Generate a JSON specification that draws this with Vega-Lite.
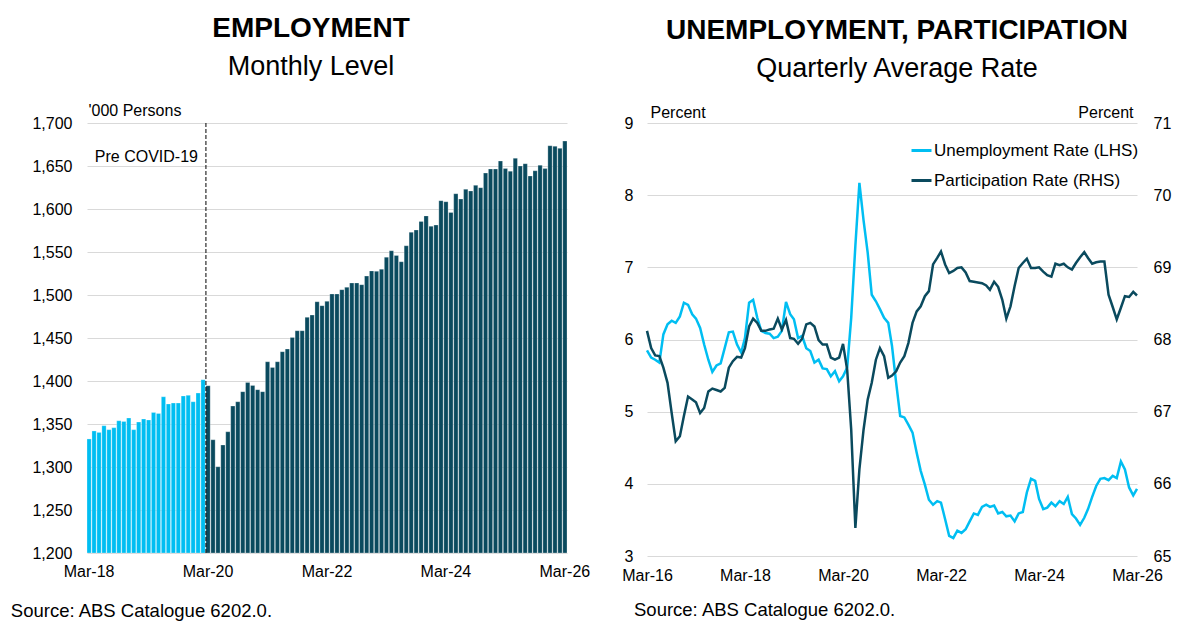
{
  "$schema": "https://vega.github.io/schema/vega-lite/v6.json",
  "background": "white",
  "padding": {"left": 10, "top": 15, "right": 5, "bottom": 5},
  "autosize": {"type": "pad"},
  "bounds": "flush",
  "spacing": 80,
  "resolve": {"scale": {"color": "independent"}, "legend": {"color": "independent"}},
  "config": {
    "font": "Liberation Sans",
    "view": {"stroke": null},
    "axis": {"labelFont": "Liberation Sans", "labelFontSize": 16, "labelColor": "#000000", "ticks": false, "domain": false, "gridColor": "#D9D9D9", "gridWidth": 1, "titleFont": "Liberation Sans", "titleFontWeight": "normal", "titleFontSize": 16, "titleColor": "#000000"},
    "legend": {"labelFont": "Liberation Sans", "labelColor": "#000000", "labelLimit": 320},
    "title": {"font": "Liberation Sans", "fontSize": 28, "fontWeight": "bold", "color": "#000000", "subtitleFont": "Liberation Sans", "subtitleFontSize": 27, "subtitleColor": "#000000", "subtitlePadding": 11, "anchor": "middle"}
  },
  "hconcat": [
    {
      "width": 480,
      "height": 430,
      "title": {"text": "EMPLOYMENT", "subtitle": "Monthly Level", "offset": 22.5, "dx": -16},
      "data": {"values": [
        {"month": "Mar-18", "employment": 1332.6, "period": "Pre COVID-19"},
        {"month": "Apr-18", "employment": 1341.9, "period": "Pre COVID-19"},
        {"month": "May-18", "employment": 1340.2, "period": "Pre COVID-19"},
        {"month": "Jun-18", "employment": 1348.0, "period": "Pre COVID-19"},
        {"month": "Jul-18", "employment": 1343.4, "period": "Pre COVID-19"},
        {"month": "Aug-18", "employment": 1345.7, "period": "Pre COVID-19"},
        {"month": "Sep-18", "employment": 1353.8, "period": "Pre COVID-19"},
        {"month": "Oct-18", "employment": 1353.0, "period": "Pre COVID-19"},
        {"month": "Nov-18", "employment": 1357.0, "period": "Pre COVID-19"},
        {"month": "Dec-18", "employment": 1343.4, "period": "Pre COVID-19"},
        {"month": "Jan-19", "employment": 1352.3, "period": "Pre COVID-19"},
        {"month": "Feb-19", "employment": 1355.8, "period": "Pre COVID-19"},
        {"month": "Mar-19", "employment": 1354.7, "period": "Pre COVID-19"},
        {"month": "Apr-19", "employment": 1363.5, "period": "Pre COVID-19"},
        {"month": "May-19", "employment": 1362.3, "period": "Pre COVID-19"},
        {"month": "Jun-19", "employment": 1381.7, "period": "Pre COVID-19"},
        {"month": "Jul-19", "employment": 1373.3, "period": "Pre COVID-19"},
        {"month": "Aug-19", "employment": 1374.4, "period": "Pre COVID-19"},
        {"month": "Sep-19", "employment": 1374.4, "period": "Pre COVID-19"},
        {"month": "Oct-19", "employment": 1382.6, "period": "Pre COVID-19"},
        {"month": "Nov-19", "employment": 1383.3, "period": "Pre COVID-19"},
        {"month": "Dec-19", "employment": 1375.9, "period": "Pre COVID-19"},
        {"month": "Jan-20", "employment": 1386.0, "period": "Pre COVID-19"},
        {"month": "Feb-20", "employment": 1401.5, "period": "Pre COVID-19"},
        {"month": "Mar-20", "employment": 1394.5, "period": "Post"},
        {"month": "Apr-20", "employment": 1331.7, "period": "Post"},
        {"month": "May-20", "employment": 1300.3, "period": "Post"},
        {"month": "Jun-20", "employment": 1325.6, "period": "Post"},
        {"month": "Jul-20", "employment": 1341.0, "period": "Post"},
        {"month": "Aug-20", "employment": 1370.9, "period": "Post"},
        {"month": "Sep-20", "employment": 1375.9, "period": "Post"},
        {"month": "Oct-20", "employment": 1387.6, "period": "Post"},
        {"month": "Nov-20", "employment": 1398.4, "period": "Post"},
        {"month": "Dec-20", "employment": 1394.9, "period": "Post"},
        {"month": "Jan-21", "employment": 1389.9, "period": "Post"},
        {"month": "Feb-21", "employment": 1387.6, "period": "Post"},
        {"month": "Mar-21", "employment": 1422.4, "period": "Post"},
        {"month": "Apr-21", "employment": 1415.8, "period": "Post"},
        {"month": "May-21", "employment": 1422.4, "period": "Post"},
        {"month": "Jun-21", "employment": 1434.1, "period": "Post"},
        {"month": "Jul-21", "employment": 1437.2, "period": "Post"},
        {"month": "Aug-21", "employment": 1450.7, "period": "Post"},
        {"month": "Sep-21", "employment": 1458.5, "period": "Post"},
        {"month": "Oct-21", "employment": 1458.5, "period": "Post"},
        {"month": "Nov-21", "employment": 1474.0, "period": "Post"},
        {"month": "Dec-21", "employment": 1476.7, "period": "Post"},
        {"month": "Jan-22", "employment": 1492.2, "period": "Post"},
        {"month": "Feb-22", "employment": 1487.6, "period": "Post"},
        {"month": "Mar-22", "employment": 1492.6, "period": "Post"},
        {"month": "Apr-22", "employment": 1501.2, "period": "Post"},
        {"month": "May-22", "employment": 1501.2, "period": "Post"},
        {"month": "Jun-22", "employment": 1506.2, "period": "Post"},
        {"month": "Jul-22", "employment": 1509.0, "period": "Post"},
        {"month": "Aug-22", "employment": 1514.0, "period": "Post"},
        {"month": "Sep-22", "employment": 1514.0, "period": "Post"},
        {"month": "Oct-22", "employment": 1512.0, "period": "Post"},
        {"month": "Nov-22", "employment": 1522.0, "period": "Post"},
        {"month": "Dec-22", "employment": 1528.0, "period": "Post"},
        {"month": "Jan-23", "employment": 1527.5, "period": "Post"},
        {"month": "Feb-23", "employment": 1530.0, "period": "Post"},
        {"month": "Mar-23", "employment": 1544.0, "period": "Post"},
        {"month": "Apr-23", "employment": 1551.5, "period": "Post"},
        {"month": "May-23", "employment": 1546.0, "period": "Post"},
        {"month": "Jun-23", "employment": 1538.7, "period": "Post"},
        {"month": "Jul-23", "employment": 1557.3, "period": "Post"},
        {"month": "Aug-23", "employment": 1573.0, "period": "Post"},
        {"month": "Sep-23", "employment": 1575.6, "period": "Post"},
        {"month": "Oct-23", "employment": 1585.6, "period": "Post"},
        {"month": "Nov-23", "employment": 1592.0, "period": "Post"},
        {"month": "Dec-23", "employment": 1580.0, "period": "Post"},
        {"month": "Jan-24", "employment": 1581.4, "period": "Post"},
        {"month": "Feb-24", "employment": 1609.7, "period": "Post"},
        {"month": "Mar-24", "employment": 1608.5, "period": "Post"},
        {"month": "Apr-24", "employment": 1596.0, "period": "Post"},
        {"month": "May-24", "employment": 1617.8, "period": "Post"},
        {"month": "Jun-24", "employment": 1611.6, "period": "Post"},
        {"month": "Jul-24", "employment": 1623.0, "period": "Post"},
        {"month": "Aug-24", "employment": 1621.0, "period": "Post"},
        {"month": "Sep-24", "employment": 1627.5, "period": "Post"},
        {"month": "Oct-24", "employment": 1624.8, "period": "Post"},
        {"month": "Nov-24", "employment": 1641.8, "period": "Post"},
        {"month": "Dec-24", "employment": 1646.5, "period": "Post"},
        {"month": "Jan-25", "employment": 1646.5, "period": "Post"},
        {"month": "Feb-25", "employment": 1655.8, "period": "Post"},
        {"month": "Mar-25", "employment": 1647.2, "period": "Post"},
        {"month": "Apr-25", "employment": 1644.0, "period": "Post"},
        {"month": "May-25", "employment": 1659.0, "period": "Post"},
        {"month": "Jun-25", "employment": 1650.0, "period": "Post"},
        {"month": "Jul-25", "employment": 1652.7, "period": "Post"},
        {"month": "Aug-25", "employment": 1638.4, "period": "Post"},
        {"month": "Sep-25", "employment": 1644.5, "period": "Post"},
        {"month": "Oct-25", "employment": 1651.0, "period": "Post"},
        {"month": "Nov-25", "employment": 1647.0, "period": "Post"},
        {"month": "Dec-25", "employment": 1673.6, "period": "Post"},
        {"month": "Jan-26", "employment": 1673.0, "period": "Post"},
        {"month": "Feb-26", "employment": 1670.5, "period": "Post"},
        {"month": "Mar-26", "employment": 1679.0, "period": "Post"}
      ]},
      "layer": [
        {
          "mark": {"type": "bar", "stroke": "#FFFFFF", "strokeOpacity": 0.45, "strokeWidth": 0.6},
          "encoding": {
            "x": {
              "field": "month", "type": "ordinal", "sort": null,
              "scale": {"paddingInner": 0.14, "paddingOuter": 0,
                "domain": ["Mar-18","Apr-18","May-18","Jun-18","Jul-18","Aug-18","Sep-18","Oct-18","Nov-18","Dec-18","Jan-19","Feb-19","Mar-19","Apr-19","May-19","Jun-19","Jul-19","Aug-19","Sep-19","Oct-19","Nov-19","Dec-19","Jan-20","Feb-20","Mar-20","Apr-20","May-20","Jun-20","Jul-20","Aug-20","Sep-20","Oct-20","Nov-20","Dec-20","Jan-21","Feb-21","Mar-21","Apr-21","May-21","Jun-21","Jul-21","Aug-21","Sep-21","Oct-21","Nov-21","Dec-21","Jan-22","Feb-22","Mar-22","Apr-22","May-22","Jun-22","Jul-22","Aug-22","Sep-22","Oct-22","Nov-22","Dec-22","Jan-23","Feb-23","Mar-23","Apr-23","May-23","Jun-23","Jul-23","Aug-23","Sep-23","Oct-23","Nov-23","Dec-23","Jan-24","Feb-24","Mar-24","Apr-24","May-24","Jun-24","Jul-24","Aug-24","Sep-24","Oct-24","Nov-24","Dec-24","Jan-25","Feb-25","Mar-25","Apr-25","May-25","Jun-25","Jul-25","Aug-25","Sep-25","Oct-25","Nov-25","Dec-25","Jan-26","Feb-26","Mar-26"]},
              "axis": {"values": ["Mar-18", "Mar-20", "Mar-22", "Mar-24", "Mar-26"], "labelAngle": 0, "labelPadding": 10, "grid": false,
                "title": "Source: ABS Catalogue 6202.0.", "titleX": -76.7, "titleY": 57.7, "titleAlign": "left", "titleBaseline": "middle", "titleFontSize": 18.5, "titleAnchor": "start"}
            },
            "y": {
              "field": "employment", "type": "quantitative",
              "scale": {"domain": [1200, 1700], "zero": false},
              "axis": {"values": [1200, 1250, 1300, 1350, 1400, 1450, 1500, 1550, 1600, 1650, 1700], "format": ",.0f", "labelPadding": 15,
                "title": "'000 Persons", "titleAngle": 0, "titleX": 1, "titleY": -12.5, "titleAlign": "left", "titleBaseline": "middle", "titleAnchor": "end"}
            },
            "y2": {"datum": 1200},
            "color": {"field": "period", "type": "nominal", "scale": {"domain": ["Pre COVID-19", "Post"], "range": ["#00BEF2", "#0A4A5E"]}, "legend": null}
          }
        },
        {
          "data": {"values": [{"month": "Mar-20", "label": "Pre COVID-19", "level": 1661}]},
          "mark": {"type": "rule", "color": "#000000", "strokeDash": [4, 2], "strokeWidth": 1},
          "encoding": {
            "x": {"field": "month", "type": "ordinal", "bandPosition": 0},
            "y": {"datum": 1700},
            "y2": {"datum": 1200}
          }
        },
        {
          "data": {"values": [{"month": "Mar-20", "label": "Pre COVID-19", "level": 1661}]},
          "mark": {"type": "text", "align": "right", "baseline": "middle", "dx": -8, "fontSize": 16, "color": "#000000"},
          "encoding": {
            "x": {"field": "month", "type": "ordinal", "bandPosition": 0},
            "y": {"field": "level", "type": "quantitative"},
            "text": {"field": "label"}
          }
        }
      ]
    },
    {
      "width": 490,
      "height": 433,
      "title": {"text": "UNEMPLOYMENT, PARTICIPATION", "subtitle": "Quarterly Average Rate", "offset": 22.5, "dx": 5},
      "data": {"values": [
        {"month": "2016-03-01", "ur": 5.85, "pr": 68.12},
        {"month": "2016-04-01", "ur": 5.75, "pr": 67.88},
        {"month": "2016-05-01", "ur": 5.72, "pr": 67.78},
        {"month": "2016-06-01", "ur": 5.68, "pr": 67.77},
        {"month": "2016-07-01", "ur": 6.07, "pr": 67.61},
        {"month": "2016-08-01", "ur": 6.21, "pr": 67.40},
        {"month": "2016-09-01", "ur": 6.26, "pr": 66.98},
        {"month": "2016-10-01", "ur": 6.23, "pr": 66.59},
        {"month": "2016-11-01", "ur": 6.32, "pr": 66.66},
        {"month": "2016-12-01", "ur": 6.51, "pr": 66.94},
        {"month": "2017-01-01", "ur": 6.48, "pr": 67.21},
        {"month": "2017-02-01", "ur": 6.35, "pr": 67.17},
        {"month": "2017-03-01", "ur": 6.29, "pr": 67.13},
        {"month": "2017-04-01", "ur": 6.16, "pr": 66.98},
        {"month": "2017-05-01", "ur": 5.93, "pr": 67.05},
        {"month": "2017-06-01", "ur": 5.72, "pr": 67.28},
        {"month": "2017-07-01", "ur": 5.55, "pr": 67.32},
        {"month": "2017-08-01", "ur": 5.64, "pr": 67.30},
        {"month": "2017-09-01", "ur": 5.67, "pr": 67.28},
        {"month": "2017-10-01", "ur": 5.88, "pr": 67.33},
        {"month": "2017-11-01", "ur": 6.10, "pr": 67.61},
        {"month": "2017-12-01", "ur": 6.11, "pr": 67.70},
        {"month": "2018-01-01", "ur": 5.93, "pr": 67.76},
        {"month": "2018-02-01", "ur": 5.82, "pr": 67.75},
        {"month": "2018-03-01", "ur": 6.02, "pr": 67.88},
        {"month": "2018-04-01", "ur": 6.51, "pr": 68.18},
        {"month": "2018-05-01", "ur": 6.55, "pr": 68.29},
        {"month": "2018-06-01", "ur": 6.30, "pr": 68.23},
        {"month": "2018-07-01", "ur": 6.12, "pr": 68.12},
        {"month": "2018-08-01", "ur": 6.09, "pr": 68.12},
        {"month": "2018-09-01", "ur": 6.08, "pr": 68.14},
        {"month": "2018-10-01", "ur": 6.02, "pr": 68.15},
        {"month": "2018-11-01", "ur": 6.04, "pr": 68.29},
        {"month": "2018-12-01", "ur": 6.12, "pr": 68.14},
        {"month": "2019-01-01", "ur": 6.52, "pr": 68.27},
        {"month": "2019-02-01", "ur": 6.35, "pr": 68.02},
        {"month": "2019-03-01", "ur": 6.28, "pr": 68.01},
        {"month": "2019-04-01", "ur": 6.02, "pr": 67.94},
        {"month": "2019-05-01", "ur": 6.05, "pr": 68.01},
        {"month": "2019-06-01", "ur": 5.88, "pr": 68.21},
        {"month": "2019-07-01", "ur": 5.84, "pr": 68.23},
        {"month": "2019-08-01", "ur": 5.68, "pr": 68.18},
        {"month": "2019-09-01", "ur": 5.72, "pr": 67.99},
        {"month": "2019-10-01", "ur": 5.60, "pr": 67.93},
        {"month": "2019-11-01", "ur": 5.59, "pr": 67.93},
        {"month": "2019-12-01", "ur": 5.49, "pr": 67.75},
        {"month": "2020-01-01", "ur": 5.56, "pr": 67.72},
        {"month": "2020-02-01", "ur": 5.42, "pr": 67.75},
        {"month": "2020-03-01", "ur": 5.49, "pr": 67.94},
        {"month": "2020-04-01", "ur": 5.61, "pr": 67.58},
        {"month": "2020-05-01", "ur": 6.30, "pr": 66.75},
        {"month": "2020-06-01", "ur": 7.30, "pr": 65.39},
        {"month": "2020-07-01", "ur": 8.17, "pr": 66.20},
        {"month": "2020-08-01", "ur": 7.65, "pr": 66.75},
        {"month": "2020-09-01", "ur": 7.20, "pr": 67.17},
        {"month": "2020-10-01", "ur": 6.62, "pr": 67.40},
        {"month": "2020-11-01", "ur": 6.53, "pr": 67.72},
        {"month": "2020-12-01", "ur": 6.42, "pr": 67.88},
        {"month": "2021-01-01", "ur": 6.30, "pr": 67.77},
        {"month": "2021-02-01", "ur": 6.23, "pr": 67.47},
        {"month": "2021-03-01", "ur": 5.91, "pr": 67.50},
        {"month": "2021-04-01", "ur": 5.40, "pr": 67.56},
        {"month": "2021-05-01", "ur": 4.94, "pr": 67.68},
        {"month": "2021-06-01", "ur": 4.92, "pr": 67.77},
        {"month": "2021-07-01", "ur": 4.82, "pr": 67.95},
        {"month": "2021-08-01", "ur": 4.71, "pr": 68.23},
        {"month": "2021-09-01", "ur": 4.43, "pr": 68.39},
        {"month": "2021-10-01", "ur": 4.18, "pr": 68.46},
        {"month": "2021-11-01", "ur": 3.99, "pr": 68.60},
        {"month": "2021-12-01", "ur": 3.78, "pr": 68.67},
        {"month": "2022-01-01", "ur": 3.71, "pr": 69.04},
        {"month": "2022-02-01", "ur": 3.76, "pr": 69.13},
        {"month": "2022-03-01", "ur": 3.74, "pr": 69.22},
        {"month": "2022-04-01", "ur": 3.51, "pr": 69.04},
        {"month": "2022-05-01", "ur": 3.28, "pr": 68.92},
        {"month": "2022-06-01", "ur": 3.25, "pr": 68.95},
        {"month": "2022-07-01", "ur": 3.35, "pr": 68.99},
        {"month": "2022-08-01", "ur": 3.32, "pr": 69.00},
        {"month": "2022-09-01", "ur": 3.37, "pr": 68.93},
        {"month": "2022-10-01", "ur": 3.48, "pr": 68.81},
        {"month": "2022-11-01", "ur": 3.59, "pr": 68.80},
        {"month": "2022-12-01", "ur": 3.57, "pr": 68.79},
        {"month": "2023-01-01", "ur": 3.68, "pr": 68.78},
        {"month": "2023-02-01", "ur": 3.71, "pr": 68.75},
        {"month": "2023-03-01", "ur": 3.68, "pr": 68.69},
        {"month": "2023-04-01", "ur": 3.70, "pr": 68.80},
        {"month": "2023-05-01", "ur": 3.59, "pr": 68.73},
        {"month": "2023-06-01", "ur": 3.61, "pr": 68.55},
        {"month": "2023-07-01", "ur": 3.55, "pr": 68.29},
        {"month": "2023-08-01", "ur": 3.56, "pr": 68.46},
        {"month": "2023-09-01", "ur": 3.48, "pr": 68.74},
        {"month": "2023-10-01", "ur": 3.59, "pr": 68.99},
        {"month": "2023-11-01", "ur": 3.61, "pr": 69.06},
        {"month": "2023-12-01", "ur": 3.88, "pr": 69.12},
        {"month": "2024-01-01", "ur": 4.07, "pr": 68.99},
        {"month": "2024-02-01", "ur": 4.04, "pr": 68.99},
        {"month": "2024-03-01", "ur": 3.79, "pr": 69.00},
        {"month": "2024-04-01", "ur": 3.65, "pr": 68.94},
        {"month": "2024-05-01", "ur": 3.67, "pr": 68.89},
        {"month": "2024-06-01", "ur": 3.74, "pr": 68.87},
        {"month": "2024-07-01", "ur": 3.69, "pr": 69.05},
        {"month": "2024-08-01", "ur": 3.76, "pr": 69.03},
        {"month": "2024-09-01", "ur": 3.72, "pr": 69.05},
        {"month": "2024-10-01", "ur": 3.82, "pr": 69.00},
        {"month": "2024-11-01", "ur": 3.58, "pr": 68.97},
        {"month": "2024-12-01", "ur": 3.52, "pr": 69.06},
        {"month": "2025-01-01", "ur": 3.43, "pr": 69.14},
        {"month": "2025-02-01", "ur": 3.53, "pr": 69.21},
        {"month": "2025-03-01", "ur": 3.65, "pr": 69.13},
        {"month": "2025-04-01", "ur": 3.82, "pr": 69.05},
        {"month": "2025-05-01", "ur": 3.97, "pr": 69.07},
        {"month": "2025-06-01", "ur": 4.07, "pr": 69.08},
        {"month": "2025-07-01", "ur": 4.08, "pr": 69.08},
        {"month": "2025-08-01", "ur": 4.05, "pr": 68.62},
        {"month": "2025-09-01", "ur": 4.11, "pr": 68.45},
        {"month": "2025-10-01", "ur": 4.08, "pr": 68.28},
        {"month": "2025-11-01", "ur": 4.31, "pr": 68.44},
        {"month": "2025-12-01", "ur": 4.20, "pr": 68.60},
        {"month": "2026-01-01", "ur": 3.95, "pr": 68.59},
        {"month": "2026-02-01", "ur": 3.84, "pr": 68.66},
        {"month": "2026-03-01", "ur": 3.93, "pr": 68.61}
      ]},
      "transform": [{"fold": ["ur", "pr"], "as": ["series", "rate"]}],
      "layer": [
        {
          "transform": [{"filter": "datum.series === 'ur'"}],
          "mark": {"type": "line", "strokeWidth": 2.5},
          "encoding": {
            "x": {
              "field": "month", "type": "temporal",
              "scale": {"type": "utc", "domain": [{"year": 2016, "month": 3, "date": 1, "utc": true}, {"year": 2026, "month": 3, "date": 1, "utc": true}]},
              "axis": {"values": [
                  {"year": 2016, "month": 3, "date": 1, "utc": true},
                  {"year": 2018, "month": 3, "date": 1, "utc": true},
                  {"year": 2020, "month": 3, "date": 1, "utc": true},
                  {"year": 2022, "month": 3, "date": 1, "utc": true},
                  {"year": 2024, "month": 3, "date": 1, "utc": true},
                  {"year": 2026, "month": 3, "date": 1, "utc": true}],
                "labelExpr": "utcFormat(datum.value, '%b-%y')", "labelPadding": 11, "grid": false, "labelFlush": false, "labelOverlap": false,
                "title": "Source: ABS Catalogue 6202.0.", "titleX": -13.5, "titleY": 53.3, "titleAlign": "left", "titleBaseline": "middle", "titleFontSize": 18.5, "titleAnchor": "start"}
            },
            "y": {
              "field": "rate", "type": "quantitative",
              "scale": {"domain": [3, 9], "zero": false},
              "axis": {"orient": "left", "values": [3, 4, 5, 6, 7, 8, 9], "labelPadding": 14,
                "title": "Percent", "titleAngle": 0, "titleX": 3, "titleY": -10.5, "titleAlign": "left", "titleBaseline": "middle", "titleAnchor": "end"}
            },
            "color": {"field": "series", "type": "nominal",
              "scale": {"domain": ["ur", "pr"], "range": ["#00BEF2", "#0A4A5E"]},
              "legend": {"orient": "none", "legendX": 263, "legendY": 16, "title": null, "symbolType": "stroke", "symbolSize": 400, "symbolStrokeWidth": 3, "labelFontSize": 17, "labelOffset": 1, "labelLimit": 320, "rowPadding": 10,
                "labelExpr": "datum.value === 'ur' ? 'Unemployment Rate (LHS)' : 'Participation Rate (RHS)'"}
            }
          }
        },
        {
          "transform": [{"filter": "datum.series === 'pr'"}],
          "mark": {"type": "line", "strokeWidth": 2.5},
          "encoding": {
            "x": {"field": "month", "type": "temporal"},
            "y": {
              "field": "rate", "type": "quantitative",
              "scale": {"domain": [65, 71], "zero": false},
              "axis": {"orient": "right", "values": [65, 66, 67, 68, 69, 70, 71], "labelPadding": 16, "grid": false,
                "title": "Percent", "titleAngle": 0, "titleX": -4, "titleY": -10.5, "titleAlign": "right", "titleBaseline": "middle", "titleAnchor": "end"}
            },
            "color": {"field": "series", "type": "nominal",
              "legend": {"orient": "none", "legendX": 263, "legendY": 16, "title": null, "symbolType": "stroke", "symbolSize": 400, "symbolStrokeWidth": 3, "labelFontSize": 17, "labelOffset": 1, "labelLimit": 320, "rowPadding": 10,
                "labelExpr": "datum.value === 'ur' ? 'Unemployment Rate (LHS)' : 'Participation Rate (RHS)'"}
            }
          }
        }
      ],
      "resolve": {"scale": {"y": "independent"}}
    }
  ]
}
